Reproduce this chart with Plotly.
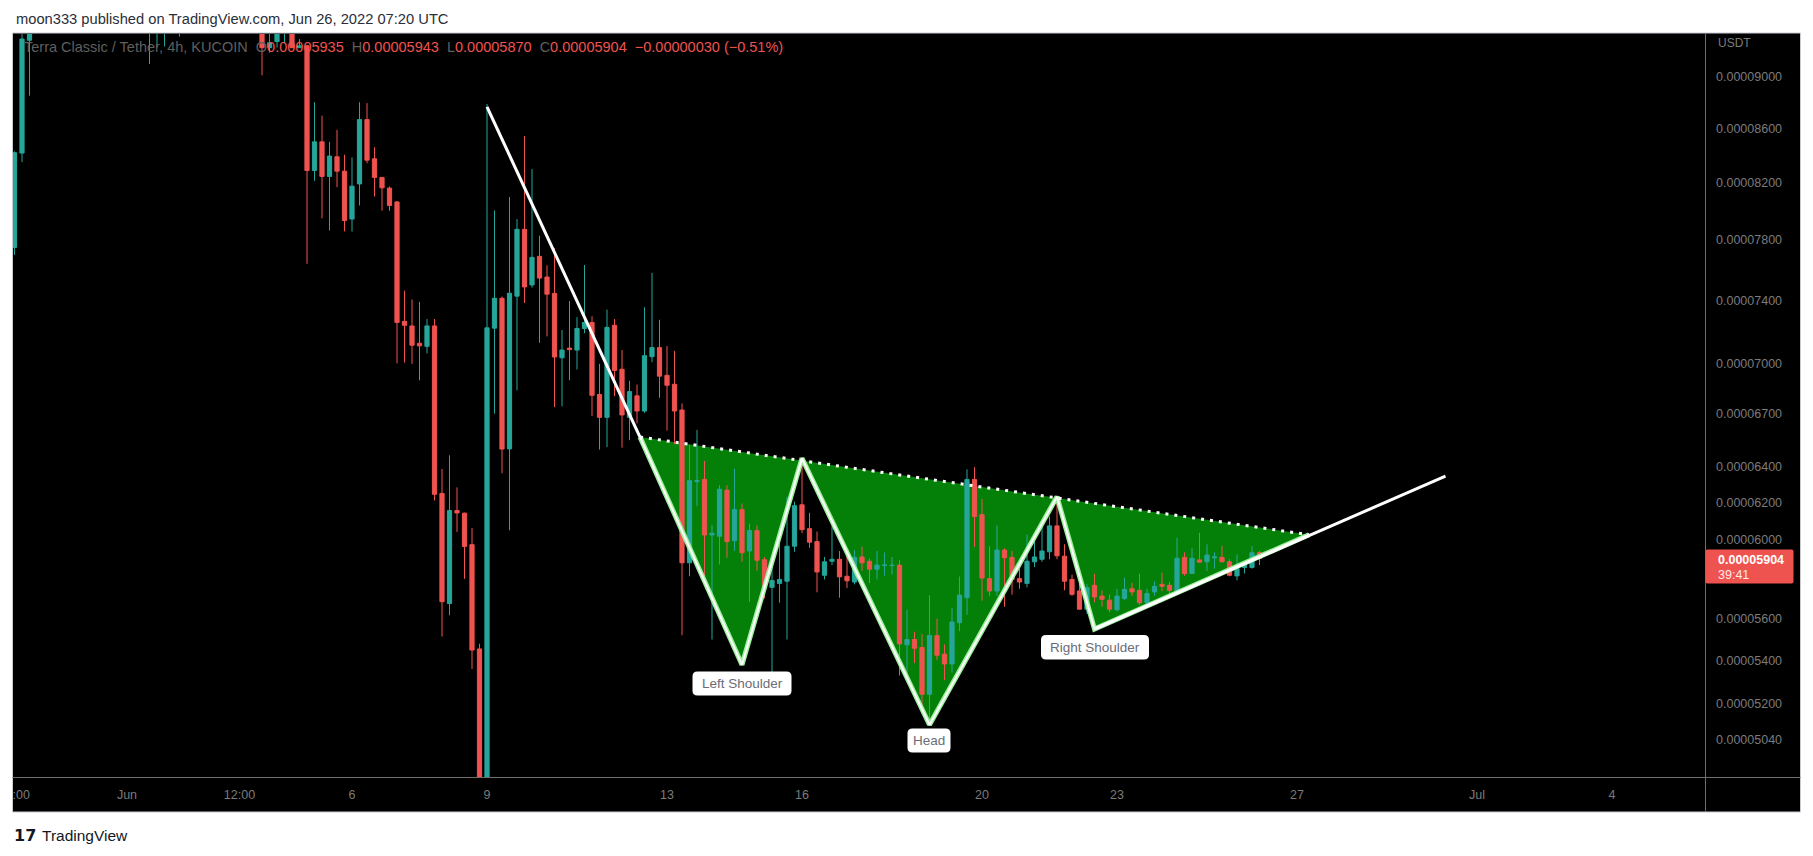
import numpy as np
import plotly.graph_objects as go

W, H = 1813, 856

# ---------------- data: 4h candles, prices in units of 1e-8 USDT ----------------
opens = [7750, 8417, 9290, 9500, 9650, 9580, 9700, 9950, 9880, 9760,
         9850, 10150, 10020, 9900, 9750, 9800, 9650, 9520, 9600, 9450,
         9520, 9650, 9580, 9700, 9880, 9760, 9600, 9650, 9820, 9700,
         9560, 9620, 9520, 9450, 9230, 9280, 9380, 9450, 9230, 9245,
         8290, 8500, 8247, 8390, 8285, 7945, 8193, 8667, 8375, 8240,
         8163, 8065, 7265, 7236, 7127, 7108, 7236, 6250, 5676, 6157,
         6143, 5976, 5455, 4760, 7222, 7413, 6498, 7427, 7874, 7500,
         7690, 7552, 7445, 7037, 7097, 7085, 7220, 7258, 6815, 6680,
         7240, 6967, 6680, 6807, 6717, 7044, 7100, 6930, 6876, 6723,
         5882, 6315, 6327, 6027, 6020, 6268, 5997, 6162, 5943, 6050,
         5898, 5757, 5777, 5788, 5968, 6188, 6060, 5992, 5818, 5890,
         5900, 5813, 5784, 5912, 5890, 5849, 5868, 5868, 5870, 5475,
         5500, 5462, 5243, 5519, 5430, 5384, 5582, 5705, 6327, 6135,
         5801, 5739, 5948, 5910, 5801, 5777, 5887, 5900, 5939, 6075,
         5916, 5797, 5739, 5648, 5767, 5713, 5693, 5645, 5701, 5750,
         5742, 5680, 5734, 5772, 5767, 5739, 5910, 5827, 5897, 5887,
         5908, 5910, 5887, 5815, 5858, 5858, 5935]
highs = [8430, 9400, 9700, 9800, 9900, 9750, 10100, 10200, 10050, 9900,
         10300, 10400, 10150, 10000, 9850, 9950, 9750, 9700, 9680, 9600,
         9700, 9800, 9750, 9950, 10000, 9850, 9700, 9900, 9950, 9800,
         9700, 9750, 9650, 9500, 9400, 9450, 9500, 9500, 9300, 9250,
         8800, 8697, 8500, 8590, 8405, 8385, 8800, 8793, 8460, 8242,
         8175, 8070, 7463, 7405, 7390, 7280, 7280, 6385, 6462, 6283,
         6146, 6063, 5480, 8786, 8005, 7425, 8100, 7945, 8543, 8300,
         7830, 7630, 7745, 7210, 7395, 7292, 7632, 7298, 7000, 7340,
         7280, 7085, 6898, 6874, 7355, 7580, 7275, 7110, 7080, 6762,
         6521, 6607, 6430, 6080, 6295, 6295, 6386, 6195, 6087, 6077,
         5912, 5865, 5988, 6232, 6205, 6444, 6145, 6045, 5912, 6072,
         5943, 5945, 5948, 5965, 5905, 5943, 5935, 5912, 5895, 5645,
         5538, 5527, 5718, 5601, 5477, 5654, 5812, 6383, 6395, 6220,
         5968, 6077, 5957, 5943, 5852, 6029, 5998, 6077, 6125, 6195,
         5978, 5821, 5797, 5772, 5826, 5742, 5721, 5750, 5806, 5780,
         5826, 5750, 5787, 5831, 5784, 6012, 5936, 5957, 6038, 5978,
         5936, 5970, 5900, 5925, 5887, 5968, 5943]
lows = [7700, 8350, 8850, 9420, 9500, 9450, 9650, 9800, 9700, 9600,
        9800, 9950, 9850, 9700, 9550, 9600, 9450, 9400, 9100, 9230,
        9240, 9500, 9320, 9600, 9700, 9550, 9450, 9600, 9650, 9500,
        9420, 9480, 9400, 9010, 9190, 9230, 9265, 9225, 9228, 7640,
        8215, 7950, 7866, 8170, 7860, 7858, 8040, 8343, 8103, 8003,
        8003, 7003, 7008, 7000, 6900, 7064, 6211, 5515, 5618, 6043,
        5800, 5360, 4650, 4650, 6701, 6361, 6052, 6840, 7383, 7482,
        7130, 7170, 6740, 6745, 6900, 6965, 7190, 6687, 6494, 6508,
        6805, 6505, 6548, 6645, 6706, 7010, 6795, 6603, 6525, 5521,
        5813, 6180, 5800, 5500, 5873, 5908, 5944, 5887, 5684, 5840,
        5702, 5330, 5680, 5500, 5939, 6036, 5960, 5732, 5797, 5870,
        5705, 5753, 5772, 5840, 5778, 5797, 5816, 5822, 5330, 5308,
        5388, 5154, 5128, 5403, 5308, 5343, 5540, 5620, 5964, 5690,
        5714, 5714, 5660, 5720, 5750, 5757, 5860, 5887, 5900, 5900,
        5742, 5714, 5648, 5625, 5682, 5660, 5633, 5637, 5693, 5714,
        5670, 5670, 5714, 5738, 5720, 5735, 5815, 5825, 5883, 5840,
        5852, 5885, 5813, 5792, 5827, 5852, 5870]
closes = [8420, 9300, 9500, 9650, 9580, 9700, 9950, 9880, 9760, 9850,
          10150, 10020, 9900, 9750, 9800, 9650, 9520, 9600, 9450, 9520,
          9650, 9580, 9700, 9880, 9760, 9600, 9650, 9820, 9700, 9560,
          9620, 9520, 9450, 9230, 9270, 9380, 9450, 9230, 9245, 8290,
          8500, 8247, 8395, 8285, 7935, 8177, 8667, 8365, 8240, 8165,
          8040, 7258, 7240, 7115, 7111, 7236, 6245, 5685, 6157, 6144,
          5967, 5450, 4750, 7224, 7413, 6497, 7446, 7874, 7487, 7683,
          7545, 7440, 7042, 7085, 7088, 7220, 7258, 6810, 6680, 7227,
          6960, 6694, 6832, 6717, 7050, 7100, 6925, 6870, 6717, 5882,
          6320, 6320, 6027, 6036, 6273, 5992, 6162, 5934, 6050, 5895,
          5755, 5792, 5797, 5968, 6183, 6055, 5989, 5835, 5887, 5900,
          5810, 5790, 5910, 5882, 5849, 5870, 5870, 5869, 5479, 5500,
          5458, 5243, 5519, 5425, 5384, 5585, 5718, 6327, 6125, 5804,
          5739, 5948, 5908, 5797, 5784, 5890, 5912, 5943, 6075, 5918,
          5788, 5722, 5648, 5755, 5709, 5697, 5648, 5713, 5747, 5734,
          5680, 5726, 5762, 5762, 5742, 5905, 5827, 5905, 5885, 5922,
          5912, 5887, 5818, 5852, 5870, 5934, 5904]
UNIT = 1e-8
bar_index = list(range(len(opens)))

# x axis labels (bar index of each label)
tick_pos = [0.9, 15, 30, 45, 63, 87, 105, 129, 147, 171, 195, 213]
tick_text = [":00", "Jun", "12:00", "6", "9", "13", "16", "20", "23", "27", "Jul", "4"]

# price axis labels
price_ticks = [9000, 8600, 8200, 7800, 7400, 7000, 6700, 6400, 6200, 6000,
               5600, 5400, 5200, 5040]

# drawings (bar index, price units)
trend_x = [63.0, 83.4]
trend_y = [8765, 6566]
pattern_x = [83.4, 97.0, 105.0, 122.0, 139.0, 144.0, 172.6]
pattern_y = [6566, 5380, 6445, 5105, 6232, 5551, 6028]
neck_x = [83.4, 172.6]
neck_y = [6566, 6028]
rise_x = [144.0, 190.8]
rise_y = [5551, 6345]

UP = "#26a69a"
DOWN = "#ef5350"
FILL = "rgb(4,128,8)"
FONT = "Liberation Sans"
AXIS_TXT = "#7b7b7b"


def px(x):
    return x / W


def py(y):
    return 1 - y / H


def sc(v):
    return [a * UNIT for a in v]


fig = go.Figure()

fig.add_trace(go.Candlestick(
    x=bar_index, open=sc(opens), high=sc(highs), low=sc(lows), close=sc(closes),
    increasing=dict(line=dict(color=UP, width=1), fillcolor=UP),
    decreasing=dict(line=dict(color=DOWN, width=1), fillcolor=DOWN),
    whiskerwidth=0, hoverinfo="skip"))

# pattern edges: light green halo + white core
fig.add_trace(go.Scatter(x=pattern_x, y=sc(pattern_y), mode="lines",
                         line=dict(color="#9ef09e", width=5), hoverinfo="skip"))
fig.add_trace(go.Scatter(x=pattern_x, y=sc(pattern_y), mode="lines",
                         line=dict(color="white", width=2), hoverinfo="skip"))
# dotted neckline
fig.add_trace(go.Scatter(x=neck_x, y=sc(neck_y), mode="lines",
                         line=dict(color="white", width=3, dash="3px,6px"),
                         hoverinfo="skip"))
# descending trend line
fig.add_trace(go.Scatter(x=trend_x, y=sc(trend_y), mode="lines",
                         line=dict(color="white", width=3), hoverinfo="skip"))
# rising line
fig.add_trace(go.Scatter(x=rise_x, y=sc(rise_y), mode="lines",
                         line=dict(color="white", width=3), hoverinfo="skip"))


def rrect(x0, y0, x1, y1, r):
    pts = [
        ("M", (x0 + r, y0)), ("L", (x1 - r, y0)), ("Q", (x1, y0), (x1, y0 + r)),
        ("L", (x1, y1 - r)), ("Q", (x1, y1), (x1 - r, y1)),
        ("L", (x0 + r, y1)), ("Q", (x0, y1), (x0, y1 - r)),
        ("L", (x0, y0 + r)), ("Q", (x0, y0), (x0 + r, y0)),
    ]
    s = ""
    for p in pts:
        s += p[0] + " " + " ".join(f"{px(a):.6f},{py(b):.6f}" for a, b in p[1:]) + " "
    return s + "Z"


# filled pattern region in data coordinates (drawn beneath the candles)
fill_path = "M " + " L ".join(
    f"{xv:.4f},{yv * UNIT:.12f}" for xv, yv in zip(pattern_x, pattern_y)) + " Z"

shapes = [
    dict(type="rect", xref="paper", yref="paper", x0=px(12.5), x1=px(1800.5),
         y0=py(812), y1=py(33), fillcolor="black", line=dict(color="#c9cbd1", width=1),
         layer="below"),
    dict(type="path", xref="x", yref="y", path=fill_path, fillcolor=FILL,
         line=dict(width=0), layer="below"),
    dict(type="line", xref="paper", yref="paper", x0=px(1705.5), x1=px(1705.5),
         y0=py(812), y1=py(33), line=dict(color="#6e6e6e", width=1)),
    dict(type="line", xref="paper", yref="paper", x0=px(12.5), x1=px(1800.5),
         y0=py(777.5), y1=py(777.5), line=dict(color="#6e6e6e", width=1)),
    # current price tag
    dict(type="path", xref="paper", yref="paper",
         path=rrect(1705.5, 549.5, 1793.5, 583.5, 2), fillcolor=DOWN, line=dict(width=0)),
    # pattern labels
    dict(type="path", xref="paper", yref="paper",
         path=rrect(692.5, 671.5, 791.5, 695.5, 5), fillcolor="white", line=dict(width=0)),
    dict(type="path", xref="paper", yref="paper",
         path=rrect(907.5, 728.5, 950.5, 752.5, 5), fillcolor="white", line=dict(width=0)),
    dict(type="path", xref="paper", yref="paper",
         path=rrect(1041, 635, 1149, 659.5, 5), fillcolor="white", line=dict(width=0)),
]

o, h, l, c = opens[-1], highs[-1], lows[-1], closes[-1]
chg = c - closes[-2]
pct = chg / closes[-2] * 100


def f8(v):
    return f"{v * UNIT:.8f}"


def sgn(v, s):
    return ("\u2212" if v < 0 else "+") + s


NB = "\u00a0"
red = DOWN
legend_txt = (
    f"<span style='color:#5f5f5f'>Terra Classic / Tether, 4h, KUCOIN{NB}{NB}O</span>"
    f"<span style='color:{red}'>{f8(o)}</span>"
    f"<span style='color:#5f5f5f'>{NB}{NB}H</span><span style='color:{red}'>{f8(h)}</span>"
    f"<span style='color:#5f5f5f'>{NB}{NB}L</span><span style='color:{red}'>{f8(l)}</span>"
    f"<span style='color:#5f5f5f'>{NB}{NB}C</span><span style='color:{red}'>{f8(c)}</span>"
    f"<span style='color:{red}'>{NB}{NB}{sgn(chg, f8(abs(chg)))} ({sgn(chg, f'{abs(pct):.2f}')}%)</span>"
)

annotations = [
    dict(text="moon333 published on TradingView.com, Jun 26, 2022 07:20 UTC",
         x=px(14), y=py(19.5), xanchor="left", yanchor="middle",
         font=dict(family=FONT, size=14.7, color="#2a2e39")),
    dict(text=legend_txt, x=px(22), y=py(47), xanchor="left", yanchor="middle",
         font=dict(family=FONT, size=14.5)),
    dict(text="USDT", x=px(1716), y=py(43), xanchor="left", yanchor="middle",
         font=dict(family=FONT, size=12, color=AXIS_TXT)),
    dict(text=f"<b>{f8(c)}</b>", x=px(1716), y=py(559.5), xanchor="left", yanchor="middle",
         font=dict(family=FONT, size=12.5, color="white")),
    dict(text="39:41", x=px(1716), y=py(575), xanchor="left", yanchor="middle",
         font=dict(family=FONT, size=12.5, color="#ffe9e9")),
    dict(text="Left Shoulder", x=px(742), y=py(683.5), xanchor="center", yanchor="middle",
         font=dict(family=FONT, size=13.5, color="#6a6d78")),
    dict(text="Head", x=px(929), y=py(740.5), xanchor="center", yanchor="middle",
         font=dict(family=FONT, size=13.5, color="#6a6d78")),
    dict(text="Right Shoulder", x=px(1095), y=py(647.3), xanchor="center", yanchor="middle",
         font=dict(family=FONT, size=13.5, color="#6a6d78")),
    dict(text="<b>17</b>", x=px(12), y=py(835), xanchor="left", yanchor="middle",
         font=dict(family="DejaVu Sans", size=16, color="#131722")),
    dict(text="TradingView", x=px(40), y=py(835), xanchor="left", yanchor="middle",
         font=dict(family=FONT, size=15.5, color="#131722")),
]
for a in annotations:
    a.update(xref="paper", yref="paper", showarrow=False)

ymin, ymax = 4.877e-5, 9.341e-5

fig.update_layout(
    width=W, height=H, margin=dict(l=0, r=0, t=0, b=0, pad=0),
    paper_bgcolor="white", plot_bgcolor="black",
    showlegend=False, hovermode=False, dragmode=False,
    boxgap=0.2, boxgroupgap=0.3,
    shapes=shapes, annotations=annotations,
    xaxis=dict(domain=[px(13), px(1705)], range=[-0.2, 225.4],
               showgrid=False, zeroline=False, showline=False, ticks="",
               tickmode="array", tickvals=tick_pos, ticktext=tick_text,
               tickfont=dict(family=FONT, size=12.5, color=AXIS_TXT),
               ticklabelstandoff=8, rangeslider=dict(visible=False), fixedrange=True),
    yaxis=dict(domain=[py(777), py(34)], type="log",
               range=[np.log10(ymin), np.log10(ymax)], side="right",
               showgrid=False, zeroline=False, showline=False, ticks="",
               tickmode="array", tickvals=sc(price_ticks),
               ticktext=[f8(v) for v in price_ticks],
               tickfont=dict(family=FONT, size=12.5, color=AXIS_TXT),
               ticklabelstandoff=10, fixedrange=True),
)

fig.write_html("out.html", config={"displayModeBar": False, "staticPlot": True},
               post_script="document.body.style.margin='0';document.body.style.overflow='hidden';")
